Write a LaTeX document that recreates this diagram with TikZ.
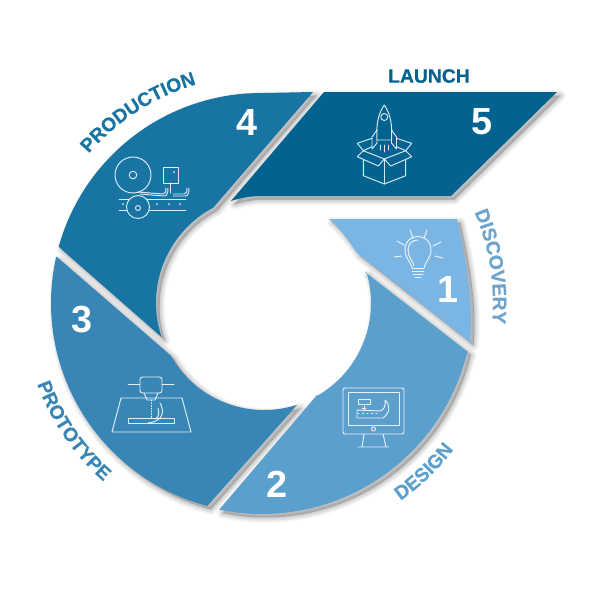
\documentclass[tikz,border=0pt]{standalone}
\usepackage{fontspec}
\setmainfont{Liberation Sans}
\newfontfamily\labfam[BoldFeatures={FakeBold=0.35}]{Liberation Sans}
\usetikzlibrary{decorations.text}
\definecolor{cone}{HTML}{7AB5E3}
\definecolor{ctwo}{HTML}{5B9FCD}
\definecolor{cthree}{HTML}{3886B6}
\definecolor{cfour}{HTML}{1875A3}
\definecolor{cfive}{HTML}{026391}
\newcommand{\numfont}{\fontsize{21.5}{24}\selectfont\bfseries}
\newcommand{\labfont}{\labfam\fontsize{11}{13}\selectfont\bfseries}
% arcs: centre x, centre y, radius, from angle, to angle
\newcommand{\arcl}[5]{-- plot[domain=#4:#5,samples=48,smooth,variable=\t] ({#1+#3*cos(\t)},{#2+#3*sin(\t)})}
% one Bezier for a label baseline
\newcommand{\arcb}[5]{({#1+#3*cos(#4)},{#2+#3*sin(#4)}) .. controls ({#1+#3*cos(#4)-4/3*tan((#5-(#4))/4)*#3*sin(#4)},{#2+#3*sin(#4)+4/3*tan((#5-(#4))/4)*#3*cos(#4)}) and ({#1+#3*cos(#5)+4/3*tan((#5-(#4))/4)*#3*sin(#5)},{#2+#3*sin(#5)-4/3*tan((#5-(#4))/4)*#3*cos(#5)}) .. ({#1+#3*cos(#5)},{#2+#3*sin(#5)})}
\newcommand{\segOne}{(329,219) -- (457,219) .. controls (465,255) and (474,300) .. (470,342) -- (357,253) .. controls (350,243) and (342,230) .. (329,219) -- cycle}
\newcommand{\segTwo}{(365,272) -- (468,352) \arcl{262}{303}{211}{13.3}{101.7} -- (317,395) \arcl{264}{303}{107}{60}{-17} -- cycle}
\newcommand{\segThree}{(57,257) \arcl{261}{303}{210}{192.7}{104.8} -- (297,405) \arcl{264}{303}{107}{72}{150.6} -- cycle}
\newcommand{\segFour}{(59,247) \arcl{261}{303}{210}{195.5}{267} -- (313,92) -- (213,208) \arcl{264}{303}{108}{241.8}{161.7} -- cycle}
\newcommand{\segFive}{(324,92) -- (557,92) -- (451,196) -- (262,196) .. controls (250,196) and (240,198) .. (231,201) -- cycle}
\tikzset{
  seglayer/.style={fill=black,draw=black,fill opacity=.028,draw opacity=.028,line join=round,line width=#1*0.569pt,shift={(3.5,3.5)}},
  icon/.style={draw=white,draw opacity=.85,line width=.55pt,line join=round,line cap=round},
  num/.style={text=white,font=\numfont,inner sep=0pt},
  seglabel/.style={decorate,decoration={text along path,text align=center,text={#1}}}
}
\begin{document}
\begin{tikzpicture}[x=0.02cm,y=-0.02cm]
\useasboundingbox (0,0) rectangle (600,600);
\fill[white] (0,0) rectangle (600,600);
% soft shadows
\foreach \w in {11,9,7.5,6,4.5,3,1.5}{
  \path[seglayer=\w] \segOne;
  \path[seglayer=\w] \segTwo;
  \path[seglayer=\w] \segThree;
  \path[seglayer=\w] \segFour;
  \path[seglayer=\w] \segFive;
}
% segments
\fill[cone] \segOne;
\fill[ctwo] \segTwo;
\fill[cthree] \segThree;
\fill[cfour] \segFour;
\fill[cfive] \segFive;
% numbers
\node[num] (n1) at (448,289) {1};
\node[num] (n2) at (277,484) {2};
\node[num] (n3) at (82,320) {3};
\node[num] (n4) at (247,122) {4};
\node[num] (n5) at (482,122) {5};
% labels
\node[text=cfive,font=\labfont,inner sep=0pt] (launch) at (429,76) {LAUNCH};
\path[seglabel={|\labfont\color{cone!90!black}|DISCOVERY}] \arcb{261}{303}{232}{-28.5}{10.5};
\path[seglabel={|\labfont\color{ctwo}|DESIGN}] \arcb{261}{303}{242}{60}{32};
\path[seglabel={|\labfont\color{cthree}|PROTOTYPE}] \arcb{261}{303}{238}{165}{126.5};
\path[seglabel={|\labfont\color{cfour}|PRODUCTION}] \arcb{261}{303}{228}{215}{259.5};
% bulb icon
\draw[icon] (412,268) .. controls (411,262) and (405,258) .. (405,250) .. controls (405,232) and (431,232) .. (431,250) .. controls (431,258) and (425,262) .. (424,268);
\draw[icon] (414,266) .. controls (413,261) and (408,257) .. (408,250) .. controls (408,243) and (413,240) .. (418,240);
\draw[icon] (412,268) -- (424,268) (412,271) -- (424,271) (413,274) -- (423,274) (415,277) -- (421,277);
\draw[icon] (410,230) -- (413,238) (427,230) -- (424,238) (397,241) -- (404,245) (441,242) -- (433,246) (394,257) -- (402,256) (435,256) -- (443,258);
% monitor icon
\draw[icon,rounded corners=1.2pt] (343,388) rectangle (404,434);
\draw[icon] (348,392) rectangle (399,425);
\draw[icon] (373.5,429) circle[radius=2];
\draw[icon] (364,434) -- (362,447) (383,434) -- (386,447) (358,447) -- (389,447);
\draw[icon] (358,399) rectangle (370,404) (364,406) -- (364,410) (362,408) -- (366,408);
\draw[icon] (357,410) -- (380,411) .. controls (384,410) and (386,406) .. (385,400) .. controls (390,404) and (391,412) .. (383,418) -- (357,418) -- cycle;
\draw[icon,dotted] (358,413) -- (380,413);
% printer icon
\draw[icon,rounded corners=1.5pt] (140,377) rectangle (162,393);
\draw[icon] (128,384) -- (140,384) (162,384) -- (174,384);
\draw[icon] (144,393) -- (147,400) -- (155,400) -- (158,393);
\draw[icon] (121,398) -- (112,432) -- (191,432) -- (182,398) -- cycle;
\draw[icon] (128,418) rectangle (174,423);
\draw[icon,densely dotted] (151,400) -- (151,418);
\draw[icon] (160,403) .. controls (164,410) and (165,421) .. (148,423);
\draw[icon] (158,408) .. controls (160,414) and (158,418) .. (155,419);
% conveyor icon
\draw[icon] (133,175) circle[radius=18] (133,175) circle[radius=3.8];
\draw[icon] (163,167) rectangle (178,183);
\fill[white,opacity=.85] (174,172) circle[radius=1];
\draw[icon] (170,183) -- (170,193);
\draw[icon] (138,192) -- (163,194) .. controls (165,194) and (166,192) .. (166,188);
\draw[icon] (140,194) -- (164,196) .. controls (167,196) and (168,193) .. (168,188);
\draw[icon] (173,194) -- (184,194) .. controls (186,194) and (187,192) .. (187,188);
\draw[icon] (173,196) -- (185,196) .. controls (188,196) and (189,193) .. (189,188);
\draw[icon] (119,199) -- (186,199) (119,210) -- (186,210);
\draw[icon,fill=cfour] (138,207) circle[radius=11.5];
\draw[icon] (138,208) circle[radius=2.5];
\foreach \dx in {123,157,169,180}{\fill[white,opacity=.85] (\dx,204) circle[radius=1];}
% rocket icon
\draw[icon] (384.3,105) .. controls (378,114) and (376,125) .. (377,140) -- (391.5,140) .. controls (392.5,125) and (390.5,114) .. (384.3,105) -- cycle;
\draw[icon] (384.3,117) circle[radius=3.5];
\draw[icon] (377,130) -- (372,137) -- (372,149) -- (377,143) -- (377,140);
\draw[icon] (391.5,130) -- (396.5,137) -- (396.5,149) -- (391.5,143) -- (391.5,140);
\draw[icon] (380,145) -- (380,150) (384.3,145) -- (384.3,152) (388.5,145) -- (388.5,150);
% box icon
\draw[icon] (363.3,160) -- (363.3,175.7) -- (384.3,184) -- (405.7,175.7) -- (405.7,160);
\draw[icon] (384.3,159) -- (384.3,184);
\draw[icon] (384.3,159) -- (363.3,150.7) -- (357.3,156.7) -- (378.3,166) -- cycle;
\draw[icon] (384.3,159) -- (405.7,150.7) -- (411.7,156.7) -- (390.7,166) -- cycle;
\draw[icon] (363.3,150.7) -- (357.3,143.3) -- (372,138.3) (363.3,150.7) -- (372,146.7);
\draw[icon] (405.7,150.7) -- (411.7,143.3) -- (396.5,138.3) (405.7,150.7) -- (396.5,146.7);
\end{tikzpicture}
\end{document}
